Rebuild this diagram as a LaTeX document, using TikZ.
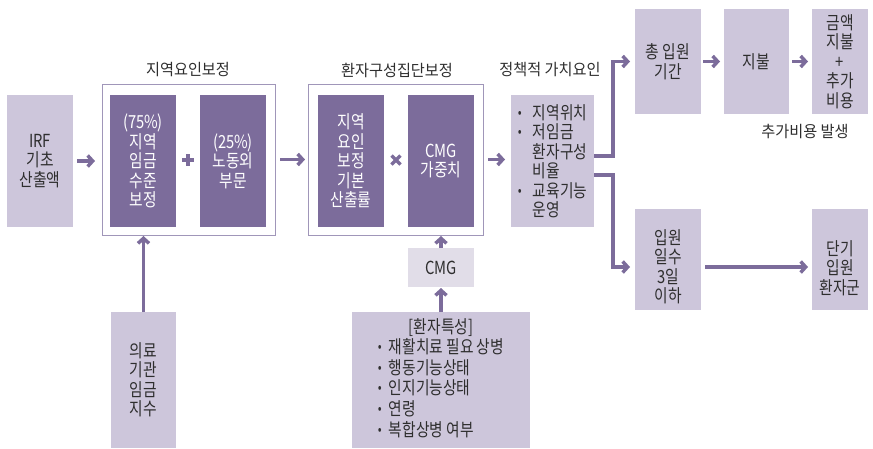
\documentclass[tikz,border=0pt]{standalone}
\usepackage{fontspec}
\setmainfont{Noto Sans CJK KR}[FakeStretch=0.82]
\newfontfamily\titlefont{Noto Sans CJK KR}[FakeStretch=0.95]
\usetikzlibrary{arrows.meta,calc}
\definecolor{dk}{HTML}{7C6C9B}
\definecolor{lt}{HTML}{CDC6DB}
\definecolor{ltt}{HTML}{E1DDE8}
\definecolor{ol}{HTML}{A096B9}
\definecolor{tx}{HTML}{2E2E2E}
\newcommand\mybul[1][15pt]{\makebox[#1][l]{\raisebox{2pt}{\fontsize{14}{14}\selectfont •}}}
\begin{document}
\begin{tikzpicture}[x=1pt,y=-1pt,
  base/.style={inner sep=0pt, outer sep=0pt, align=center, font=\fontsize{18}{19.5}\selectfont},
  lbox/.style={base, fill=lt, text=tx},
  dbox/.style={base, fill=dk, text=white},
  obox/.style={draw=ol, line width=1pt, inner sep=0pt, outer sep=0pt},
  arr/.style={draw=dk, line width=3.5pt, -{Straight Barb[length=5pt,width=11pt]}},
  conn/.style={draw=dk, line width=3.5pt},
  ttl/.style={font=\titlefont\fontsize{16}{18}\selectfont, text=tx, inner sep=0pt},
]
\useasboundingbox (0,0) rectangle (873,448);

% left part
\node[lbox, minimum width=66pt, minimum height=132pt] (irf) at (40,161) {IRF\\기초\\산출액};
\node[obox, minimum width=173pt, minimum height=151pt] (o1) at (188.5,159.5) {};
\node[dbox, minimum width=66pt, minimum height=132pt] (d1) at (143,161) {(75\%)\\지역\\임금\\수준\\보정};
\node[dbox, minimum width=66pt, minimum height=132pt] (d2) at (233,161) {(25\%)\\노동외\\부문};
\node[ttl] (t1) at (188,70) {지역요인보정};

% middle part
\node[obox, minimum width=175pt, minimum height=151pt] (o2) at (395.5,159.5) {};
\node[dbox, minimum width=66pt, minimum height=132pt] (d3) at (351,161) {지역\\요인\\보정\\기본\\산출률};
\node[dbox, minimum width=66pt, minimum height=132pt] (d4) at (441,161) {CMG\\가중치};
\node[ttl] (t2) at (397,70) {환자구성집단보정};

% policy
\node[lbox, minimum width=83pt, minimum height=132pt, align=left] (pol) at (552.5,161)
  {\mybul 지역위치\\\mybul 저임금\\\hspace*{15pt}환자구성\\\hspace*{15pt}비율\\\mybul 교육기능\\\hspace*{15pt}운영};
\node[ttl] (t3) at (550,70) {정책적 가치요인};

% right upper
\node[lbox, minimum width=66pt, minimum height=105pt] (tot) at (668,61.5) {총 입원\\기간};
\node[lbox, minimum width=65pt, minimum height=105pt] (pay) at (756.5,61.5) {지불};
\node[lbox, minimum width=56pt, minimum height=105pt] (amt) at (840,61.5) {금액\\지불\\+\\추가\\비용};
\node[ttl] (t4) at (805,132) {추가비용 발생};

% right lower
\node[lbox, minimum width=66pt, minimum height=101pt] (sh) at (668,259.5) {};
\node[base, text=tx] (shT) at (668,267) {입원\\일수\\3일\\이하};
\node[lbox, minimum width=56pt, minimum height=101pt] (sg) at (840,259.5) {};
\node[base, text=tx] (sgT) at (840,268) {단기\\입원\\환자군};

% bottom
\node[lbox, minimum width=65pt, minimum height=136pt] (wg) at (143.5,380) {의료\\기관\\임금\\지수};
\node[lbox, fill=ltt, minimum width=66pt, minimum height=39pt] (cmg) at (441,267.5) {CMG};
\node[lbox, minimum width=178pt, minimum height=136pt, font=\fontsize{18}{19}\selectfont] (pt) at (441,380)
  {\begin{tabular}{@{}l@{}}
   \multicolumn{1}{@{}c@{}}{[환자특성]}\\
   \mybul[11pt]재활치료 필요 상병\\
   \mybul[11pt]행동기능상태\\
   \mybul[11pt]인지기능상태\\
   \mybul[11pt]연령\\
   \mybul[11pt]복합상병 여부
   \end{tabular}};

% operators
\coordinate (plus) at ($(d1.east)!0.5!(d2.west)$);
\draw[conn, line width=3.8pt] ($(plus)+(-6,-1)$) -- ($(plus)+(6,-1)$) ($(plus)+(0,-7)$) -- ($(plus)+(0,5)$);
\coordinate (times) at ($(d3.east)!0.5!(d4.west)$);
\draw[conn, line width=3.2pt] ($(times)+(-4.5,-5.5)$) -- ($(times)+(4.5,3.5)$) ($(times)+(-4.5,3.5)$) -- ($(times)+(4.5,-5.5)$);

% arrows
\draw[arr, shorten <=4pt, shorten >=7pt] (irf.east) -- (irf.east -| o1.west);
\draw[arr, shorten <=5pt, shorten >=3pt] (o1.east) -- (o1.east -| o2.west);
\draw[arr, shorten <=5pt, shorten >=6pt] (o2.east) -- (o2.east -| pol.west);
\draw[arr, shorten <=2pt, shorten >=4pt] (tot.east) -- (tot.east -| pay.west);
\draw[arr, shorten <=3pt, shorten >=4pt] (pay.east) -- (pay.east -| amt.west);
\draw[arr, shorten <=4pt, shorten >=4pt] (shT.center -| sh.east) -- (shT.center -| sg.west);
\draw[arr, shorten >=5pt] ($(pol.east)+(0,-5)$) -- ++(19,0) |- (tot.west);
\draw[arr, shorten >=5pt] ($(pol.east)+(0,14)$) -- ++(19,0) |- (shT.center -| sh.west);
\draw[arr, shorten >=1pt] (wg.north) -- (wg.north |- o1.south);
\draw[arr, shorten >=1pt] (cmg.north) -- (cmg.north |- o2.south);
\draw[arr, shorten >=1pt] (pt.north) -- (cmg.south);
\end{tikzpicture}
\end{document}
